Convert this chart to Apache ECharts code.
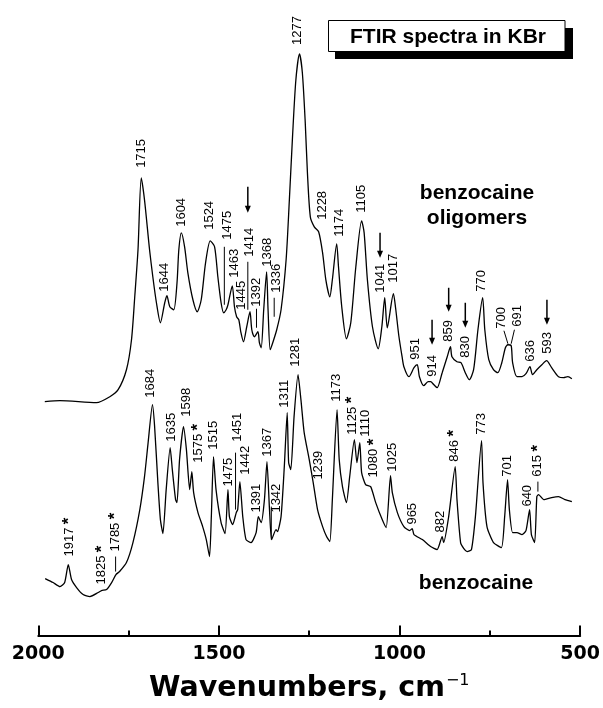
<!DOCTYPE html>
<html><head><meta charset="utf-8">
<script src="https://cdn.jsdelivr.net/npm/echarts@6/dist/echarts.min.js"></script>
<style>html,body{margin:0;padding:0;background:#fff}#c{width:603px;height:708px}</style>
</head><body><div id="c"></div>
<script>
// ---- data: wavenumbers (cm-1) and absorbance (arb. units, offset traces) ----
const oligomerWn = [1982,1940,1839,1802,1779,1756,1742,1733,1724,1715,1706,1692,1683,1673,1662,1650,1644,1636,1625,1616,1611,1604,1595,1586,1572,1560,1549,1537,1524,1512,1503,1494,1487,1480,1475,1463,1457,1451,1445,1439,1432,1423,1414,1409,1402,1392,1388,1383,1376,1368,1364,1358,1351,1340,1328,1314,1305,1296,1287,1277,1269,1261,1255,1247,1236,1224,1213,1204,1193,1186,1174,1169,1160,1147,1135,1121,1105,1098,1089,1075,1059,1049,1041,1034,1017,1011,1002,993,988,974,960,951,945,933,921,914,905,896,882,868,859,855,841,830,818,807,795,783,770,764,753,740,728,717,707,700,691,687,675,661,650,639,632,620,606,593,579,560,546,534,523];
const oligomerAbs = [2.34,2.35,2.33,2.39,2.46,2.66,2.96,3.39,3.86,4.58,4.36,3.86,3.59,3.33,3.13,3.33,3.40,3.29,3.26,3.53,3.86,4.03,3.89,3.63,3.36,3.24,3.36,3.73,3.95,3.89,3.59,3.33,3.23,3.26,3.31,3.50,3.29,3.19,3.16,3.03,2.94,3.09,3.24,3.06,2.99,3.04,2.93,2.88,3.26,3.64,3.26,2.86,2.93,3.06,3.26,3.76,4.36,5.01,5.56,5.82,5.63,5.13,4.63,4.19,4.09,4.04,3.83,3.56,3.39,3.56,3.92,3.69,3.29,2.97,3.13,3.69,4.15,4.03,3.56,3.09,2.87,3.09,3.38,3.08,3.42,3.28,3.00,2.79,2.69,2.59,2.68,2.71,2.59,2.50,2.54,2.54,2.51,2.48,2.63,2.79,2.89,2.79,2.74,2.73,2.63,2.56,2.66,3.06,3.38,3.06,2.76,2.66,2.63,2.73,2.88,2.91,2.90,2.73,2.59,2.59,2.62,2.69,2.61,2.66,2.71,2.75,2.68,2.59,2.58,2.59,2.57];

const benzocaineWn = [1981,1959,1940,1927,1917,1908,1894,1876,1857,1834,1825,1811,1797,1785,1775,1756,1738,1719,1706,1696,1684,1678,1669,1662,1655,1646,1635,1629,1620,1616,1609,1598,1590,1581,1575,1570,1558,1545,1535,1526,1521,1515,1508,1494,1483,1475,1471,1462,1452,1448,1442,1434,1425,1411,1397,1391,1383,1374,1367,1360,1354,1342,1338,1328,1319,1311,1307,1301,1292,1281,1273,1264,1250,1239,1227,1213,1202,1193,1186,1173,1167,1158,1147,1138,1125,1118,1110,1105,1094,1080,1066,1048,1037,1025,1020,1006,988,972,965,960,937,914,896,882,878,864,846,841,831,822,813,801,790,773,769,758,740,718,709,701,696,687,675,661,650,640,635,626,620,615,601,579,560,542,523];
const benzocaineAbs = [0.57,0.53,0.49,0.53,0.71,0.56,0.48,0.41,0.39,0.43,0.45,0.46,0.53,0.61,0.64,0.73,0.93,1.26,1.59,1.93,2.31,2.09,1.53,1.16,1.02,1.46,1.88,1.66,1.36,1.33,1.76,2.09,1.86,1.46,1.64,1.43,1.23,1.09,0.96,0.79,1.19,1.79,1.46,1.13,1.02,1.46,1.19,1.11,1.23,1.26,1.54,1.19,0.96,0.93,1.03,1.19,1.13,1.36,1.74,1.26,0.96,1.06,1.04,1.19,1.69,2.23,1.73,1.66,2.19,2.61,2.36,2.03,1.76,1.53,1.26,1.09,0.99,0.94,1.36,2.26,1.76,1.49,1.33,1.59,1.96,1.73,1.93,1.63,1.51,1.49,1.33,1.16,1.08,1.60,1.43,1.23,1.09,1.05,1.07,1.01,0.96,0.89,0.86,0.99,0.93,1.19,1.69,1.36,0.93,0.87,0.84,0.86,1.19,1.95,1.53,1.09,0.93,0.88,1.19,1.56,1.26,1.03,1.03,1.01,1.05,1.26,1.01,0.93,1.39,1.41,1.36,1.38,1.39,1.36,1.34];

const xTickValues = [2000, 1500, 1000, 500];

const oligomerPeakLabels = ['1715','1644','1604','1524','1475','1463','1445','1414','1392','1368','1336','1277','1228','1174','1105','1041','1017','951','914','859','830','770','700','691','636','593'];
const benzocainePeakLabels = ['1917','1825','1785','1684','1635','1598','1575','1515','1475','1451','1442','1391','1367','1342','1311','1281','1239','1173','1125','1110','1080','1025','965','882','846','773','701','640','615'];
const benzocaineStarred = ['1917','1825','1785','1575','1125','1080','846','615'];
const arrowMarkedPeaks = ['1414','1041','914','859','830','593'];

// ---- annotation layout (label anchor in data units: wavenumber, absorbance) ----
const oligomerLabelPos = [[1715,4.68],[1650,3.44],[1604,4.09],[1526,4.06],[1476,3.96],[1457,3.58],[1439,3.26],[1416,3.79],[1396,3.29],[1365,3.69],[1342,3.43],[1282,5.91],[1213,4.16],[1167,3.99],[1105,4.23],[1052,3.43],[1016,3.53],[956,2.76],[910,2.59],[864,2.94],[818,2.78],[772,3.44],[717,3.07],[675,3.09],[638,2.74],[592,2.82]];
const benzocaineLabelPos = [[1914,0.79],[1824,0.51],[1786,0.84],[1689,2.38],[1632,1.94],[1590,2.19],[1558,1.73],[1515,1.86],[1474,1.49],[1448,1.94],[1427,1.61],[1397,1.23],[1367,1.79],[1342,1.23],[1319,2.28],[1287,2.69],[1225,1.56],[1176,2.34],[1131,2.01],[1094,1.99],[1071,1.58],[1020,1.64],[963,1.11],[887,1.03],[848,1.74],[772,2.01],[701,1.59],[645,1.29],[617,1.59]];
const leaderLines = [[1485,3.89,1485,3.31],[1420,3.74,1420,3.26],[1396,3.27,1396,3.08],[1347,3.38,1347,3.19],[711,3.05,700,2.92],[682,3.06,691,2.92],
                     [1786,0.79,1786,0.64],[1454,1.83,1454,1.26],[1355,1.29,1355,0.96],[617,1.54,617,1.44]];
const arrowPos = [[1420,4.49,4.23],[1054,4.03,3.78],[910,3.16,2.91],[864,3.48,3.24],[818,3.33,3.08],[592,3.36,3.11]];

const FONT = '"Liberation Sans", Arial, Helvetica, sans-serif';
const WIDE = '"DejaVu Sans", "Liberation Sans", Arial, sans-serif';

function labelRenderer(labels, starred) {
  return function (params, api) {
    const p = api.coord([api.value(0), api.value(1)]);
    const t = labels[params.dataIndex];
    const hasStar = starred && starred.indexOf(t) >= 0;
    return {
      type: 'text', x: p[0], y: p[1], rotation: Math.PI / 2,
      style: {
        text: hasStar ? '{n|' + t + '} {s|*}' : '{n|' + t + '}',
        fill: '#000', align: 'left', verticalAlign: 'middle',
        rich: {
          n: { fontSize: 13, fontFamily: FONT, fill: '#000' },
          s: { fontSize: 17, fontWeight: 'bold', fontFamily: FONT, fill: '#000' }
        }
      }
    };
  };
}

const chart = echarts.init(document.getElementById('c'), null, { renderer: 'canvas' });
chart.setOption({
  animation: false,
  backgroundColor: '#fff',
  grid: { left: 38.3, right: 21.3, top: 0, bottom: 72, containLabel: false },
  xAxis: {
    type: 'value', inverse: true, min: 500, max: 2000, interval: 500,
    axisLine: { lineStyle: { color: '#000', width: 2 } },
    axisTick: { inside: true, length: 10, lineStyle: { color: '#000', width: 2 } },
    minorTick: { show: true, splitNumber: 2, length: 5, lineStyle: { color: '#000', width: 2 } },
    splitLine: { show: false },
    axisLabel: { color: '#000', fontWeight: 'bold', fontSize: 19, fontFamily: WIDE, margin: 9,
      formatter: v => xTickValues.indexOf(v) >= 0 ? String(v) : '' },
    name: '{a|Wavenumbers, cm}{b|\u22121}',
    nameLocation: 'middle', nameGap: 37,
    nameTextStyle: {
      rich: {
        a: { fontSize: 28.5, fontWeight: 'bold', fontFamily: WIDE, color: '#000', lineHeight: 32 },
        b: { fontSize: 16, fontFamily: WIDE, color: '#000', verticalAlign: 'top', padding: [0, 0, 0, 1] }
      }
    }
  },
  yAxis: { type: 'value', show: false, min: 0, max: 6.36 },
  series: [
    { name: 'benzocaine oligomers', type: 'line', showSymbol: false, smooth: 0.25,
      lineStyle: { color: '#000', width: 1.3 }, data: oligomerWn.map((w, i) => [w, oligomerAbs[i]]) },
    { name: 'benzocaine', type: 'line', showSymbol: false, smooth: 0.2,
      lineStyle: { color: '#000', width: 1.3 }, data: benzocaineWn.map((w, i) => [w, benzocaineAbs[i]]) },
    { type: 'custom', clip: false, renderItem: labelRenderer(oligomerPeakLabels, null),
      encode: { x: 0, y: 1 }, data: oligomerLabelPos },
    { type: 'custom', clip: false, renderItem: labelRenderer(benzocainePeakLabels, benzocaineStarred),
      encode: { x: 0, y: 1 }, data: benzocaineLabelPos },
    { type: 'custom', clip: false, encode: { x: [0, 2], y: [1, 3] }, data: leaderLines,
      renderItem: function (params, api) {
        const a = api.coord([api.value(0), api.value(1)]);
        const b = api.coord([api.value(2), api.value(3)]);
        return { type: 'line', shape: { x1: a[0], y1: a[1], x2: b[0], y2: b[1] },
          style: { stroke: '#000', lineWidth: 1 } };
      } },
    { type: 'custom', clip: false, encode: { x: 0, y: [1, 2] }, data: arrowPos,
      renderItem: function (params, api) {
        const a = api.coord([api.value(0), api.value(1)]);
        const b = api.coord([api.value(0), api.value(2)]);
        return { type: 'group', children: [
          { type: 'line', shape: { x1: a[0], y1: a[1], x2: b[0], y2: b[1] - 5 }, style: { stroke: '#000', lineWidth: 1.5 } },
          { type: 'polygon', shape: { points: [[b[0] - 3, b[1] - 7], [b[0] + 3, b[1] - 7], [b[0], b[1]]] }, style: { fill: '#000' } }
        ] };
      } }
  ],
  graphic: [
    { type: 'rect', shape: { x: 335, y: 28, width: 238, height: 31 }, style: { fill: '#000' }, z: 10 },
    { type: 'rect', shape: { x: 328.5, y: 20.5, width: 236.5, height: 31 }, style: { fill: '#fff', stroke: '#000', lineWidth: 1 }, z: 11 },
    { type: 'text', x: 448, y: 37, z: 12, style: { text: 'FTIR spectra in KBr', fontSize: 21, fontWeight: 'bold', fontFamily: FONT, fill: '#000', align: 'center', verticalAlign: 'middle' } },
    { type: 'text', x: 477, y: 206, style: { text: 'benzocaine\noligomers', fontSize: 21, fontWeight: 'bold', fontFamily: FONT, fill: '#000', align: 'center', verticalAlign: 'middle', lineHeight: 25 } },
    { type: 'text', x: 476, y: 583, style: { text: 'benzocaine', fontSize: 21, fontWeight: 'bold', fontFamily: FONT, fill: '#000', align: 'center', verticalAlign: 'middle' } }
  ]
});
</script>
</body></html>
